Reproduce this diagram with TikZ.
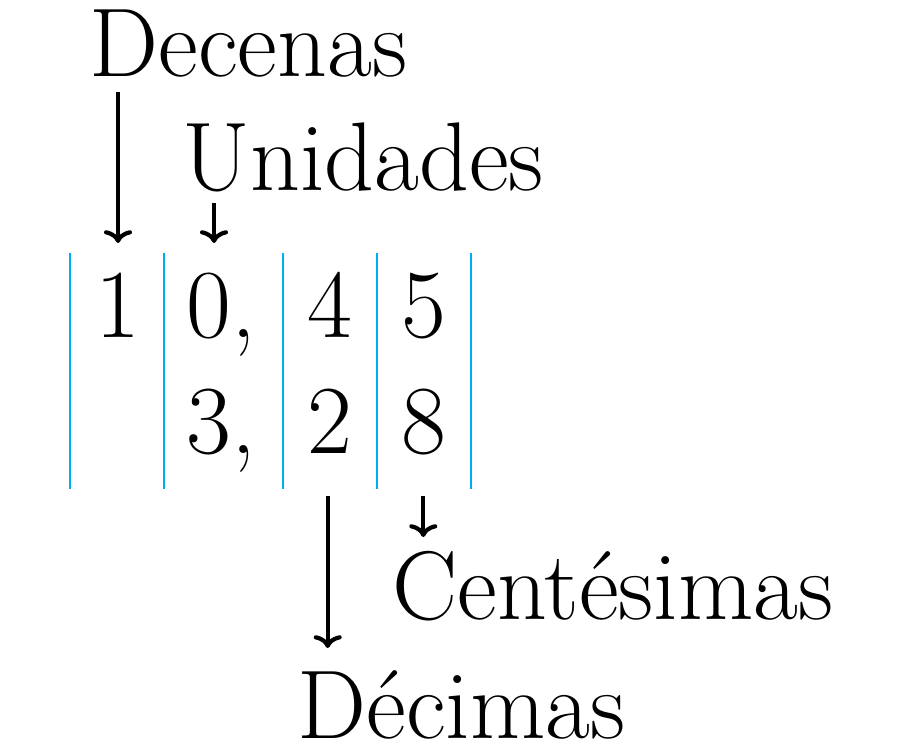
\documentclass[tikz,border=0pt]{standalone}
\usetikzlibrary{arrows.meta}
\definecolor{sep}{RGB}{0,174,239}
\begin{document}
\begin{tikzpicture}[x=0.25pt,y=-0.25pt,
  lbl/.style={inner sep=0pt,anchor=base,font=\fontsize{24.4}{29}\selectfont},
  sepline/.style={draw=sep,line width=0.5pt},
  arr/.style={line width=1.05pt,-{To[length=3.2pt,width=7pt]}}]
\useasboundingbox (0,0) rectangle (900,744);
% labels
\node[lbl] (dec) at (248.4,76) {Decenas};
\node[lbl] (uni) at (363.3,190) {Unidades};
\node[lbl] (cen) at (613,619) {Centésimas};
\node[lbl] (dcm) at (461.5,738) {Décimas};
% digits
\node[lbl] (d1) at (118,337) {1};
\node[lbl,anchor=base west] (d0) at (186,337) {0,};
\node[lbl] (d4) at (330,337) {4};
\node[lbl] (d5) at (424,337) {5};
\node[lbl,anchor=base west] (d3) at (186,453) {3,};
\node[lbl] (d2) at (330,453) {2};
\node[lbl] (d8) at (424,453) {8};
% separators
\foreach \x/\n in {70/a,164.3/b,282.7/c,376.7/d,470.7/e}{
  \coordinate (t\n) at (\x,253);
  \coordinate (b\n) at (\x,489);
  \draw[sepline] (t\n) -- (b\n);
}
% arrows
\coordinate (a1s) at (118,92);   \coordinate (a1e) at (118,243);
\coordinate (a2s) at (214,203);  \coordinate (a2e) at (214,243);
\coordinate (a3s) at (327.7,496);\coordinate (a3e) at (327.7,648);
\coordinate (a4s) at (423.3,496);\coordinate (a4e) at (423.3,537);
\draw[arr] (a1s) -- (a1e);
\draw[arr] (a2s) -- (a2e);
\draw[arr] (a3s) -- (a3e);
\draw[arr] (a4s) -- (a4e);
\end{tikzpicture}
\end{document}
